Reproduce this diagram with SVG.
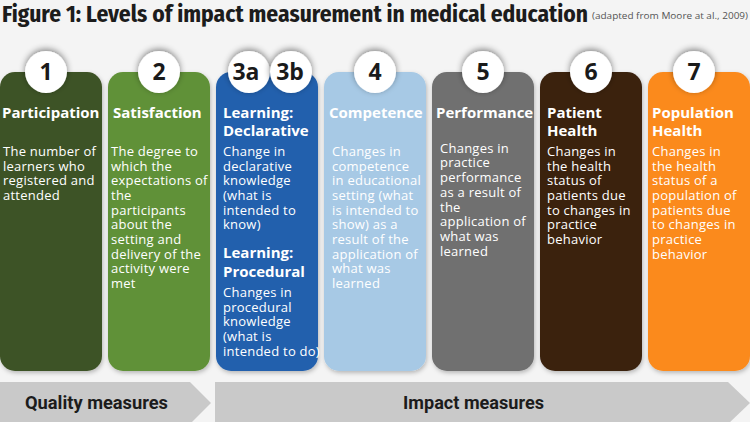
<svg xmlns="http://www.w3.org/2000/svg" width="750" height="422" viewBox="0 0 750 422">
<defs>
<style>
.title{font-family:"Fira Sans Condensed","Roboto","Liberation Sans",sans-serif;font-weight:700;fill:#1c1c1c}
.sub{font-family:"Open Sans","Liberation Sans",sans-serif;font-size:9.5px;fill:#555}
.num{font-family:"Open Sans","Liberation Sans",sans-serif;font-weight:700;font-size:23px;fill:#1a1a1a;text-anchor:middle}
.h{font-family:"Open Sans","Liberation Sans",sans-serif;font-weight:700;font-size:15px;fill:#fff}
.b{font-family:"Open Sans","Liberation Sans",sans-serif;font-size:13px;letter-spacing:0.25px;fill:#fff}
.bar{font-family:"Roboto","Liberation Sans",sans-serif;font-weight:700;font-size:19px;fill:#1c1c1c}
.circ{fill:#fff;filter:url(#cs)}
.card{filter:url(#ks)}
</style>
<filter id="cs" x="-50%" y="-50%" width="200%" height="200%">
<feDropShadow dx="0" dy="-2" stdDeviation="3" flood-color="#000" flood-opacity="0.45"/>
</filter>
<filter id="ks" x="-10%" y="-10%" width="120%" height="120%">
<feDropShadow dx="1" dy="2" stdDeviation="2" flood-color="#000" flood-opacity="0.25"/>
</filter>
</defs>
<rect width="750" height="422" fill="#f4f4f4"/>
<text class="title" x="2" y="22" font-size="24" textLength="586" lengthAdjust="spacingAndGlyphs">Figure 1: Levels of impact measurement in medical education</text>
<text class="sub" x="592" y="19" textLength="156" lengthAdjust="spacingAndGlyphs">(adapted from Moore at al., 2009)</text>

<g id="card1">
<rect class="card" x="0" y="72" width="102" height="299" rx="15" fill="#3e5225"/>
<circle class="circ" cx="46" cy="72" r="21"/>
<text class="num" x="46" y="80">1</text>
<text class="h" x="2" y="118">Participation</text>
<text class="b"><tspan x="3" y="156">The number of</tspan><tspan x="3" y="171">learners who</tspan><tspan x="3" y="185">registered and</tspan><tspan x="3" y="200">attended</tspan></text>
</g>

<g id="card2">
<rect class="card" x="108" y="72" width="102" height="299" rx="15" fill="#619137"/>
<circle class="circ" cx="159" cy="72" r="21"/>
<text class="num" x="159" y="80">2</text>
<text class="h" x="113" y="118">Satisfaction</text>
<text class="b"><tspan x="111" y="156">The degree to</tspan><tspan x="111" y="171">which the</tspan><tspan x="111" y="185">expectations of</tspan><tspan x="111" y="200">the</tspan><tspan x="111" y="215">participants</tspan><tspan x="111" y="229">about the</tspan><tspan x="111" y="244">setting and</tspan><tspan x="111" y="259">delivery of the</tspan><tspan x="111" y="273">activity were</tspan><tspan x="111" y="288">met</tspan></text>
</g>

<g id="card3">
<rect class="card" x="216" y="72" width="102" height="299" rx="15" fill="#2461ad"/>
<circle class="circ" cx="249" cy="72" r="21"/>
<circle class="circ" cx="291" cy="72" r="21"/>
<text class="num" x="246" y="80">3a</text>
<text class="num" x="290" y="80">3b</text>
<text class="h"><tspan x="223" y="118">Learning:</tspan><tspan x="223" y="136">Declarative</tspan></text>
<text class="b"><tspan x="223" y="156">Change in</tspan><tspan x="223" y="171">declarative</tspan><tspan x="223" y="185">knowledge</tspan><tspan x="223" y="200">(what is</tspan><tspan x="223" y="215">intended to</tspan><tspan x="223" y="229">know)</tspan></text>
<text class="h"><tspan x="223" y="258">Learning:</tspan><tspan x="223" y="277">Procedural</tspan></text>
<text class="b"><tspan x="223" y="297">Changes in</tspan><tspan x="223" y="312">procedural</tspan><tspan x="223" y="326">knowledge</tspan><tspan x="223" y="341">(what is</tspan><tspan x="223" y="356">intended to do)</tspan></text>
</g>

<g id="card4">
<rect class="card" x="324" y="72" width="102" height="299" rx="15" fill="#a7c9e5"/>
<circle class="circ" cx="375" cy="72" r="21"/>
<text class="num" x="375" y="80">4</text>
<text class="h" x="329" y="118">Competence</text>
<text class="b"><tspan x="332" y="156">Changes in</tspan><tspan x="332" y="171">competence</tspan><tspan x="332" y="185">in educational</tspan><tspan x="332" y="200">setting (what</tspan><tspan x="332" y="215">is intended to</tspan><tspan x="332" y="229">show) as a</tspan><tspan x="332" y="244">result of the</tspan><tspan x="332" y="259">application of</tspan><tspan x="332" y="273">what was</tspan><tspan x="332" y="288">learned</tspan></text>
</g>

<g id="card5">
<rect class="card" x="432" y="72" width="102" height="299" rx="15" fill="#6f6f6f"/>
<circle class="circ" cx="483" cy="72" r="21"/>
<text class="num" x="483" y="80">5</text>
<text class="h" x="436" y="118">Performance</text>
<text class="b"><tspan x="440" y="153">Changes in</tspan><tspan x="440" y="167">practice</tspan><tspan x="440" y="182">performance</tspan><tspan x="440" y="197">as a result of</tspan><tspan x="440" y="212">the</tspan><tspan x="440" y="226">application of</tspan><tspan x="440" y="241">what was</tspan><tspan x="440" y="256">learned</tspan></text>
</g>

<g id="card6">
<rect class="card" x="540" y="72" width="102" height="299" rx="15" fill="#3a2310"/>
<circle class="circ" cx="591" cy="72" r="21"/>
<text class="num" x="591" y="80">6</text>
<text class="h"><tspan x="547" y="118">Patient</tspan><tspan x="547" y="136">Health</tspan></text>
<text class="b"><tspan x="547" y="156">Changes in</tspan><tspan x="547" y="171">the health</tspan><tspan x="547" y="185">status of</tspan><tspan x="547" y="200">patients due</tspan><tspan x="547" y="215">to changes in</tspan><tspan x="547" y="229">practice</tspan><tspan x="547" y="244">behavior</tspan></text>
</g>

<g id="card7">
<rect class="card" x="648" y="72" width="102" height="299" rx="15" fill="#fb8a1d"/>
<circle class="circ" cx="694" cy="72" r="21"/>
<text class="num" x="694" y="80">7</text>
<text class="h"><tspan x="652" y="118">Population</tspan><tspan x="652" y="136">Health</tspan></text>
<text class="b"><tspan x="652" y="156">Changes in</tspan><tspan x="652" y="171">the health</tspan><tspan x="652" y="185">status of a</tspan><tspan x="652" y="200">population of</tspan><tspan x="652" y="215">patients due</tspan><tspan x="652" y="229">to changes in</tspan><tspan x="652" y="244">practice</tspan><tspan x="652" y="259">behavior</tspan></text>
</g>

<g id="quality">
<polygon points="0,382 190,382 211,403 190,424 0,424" fill="#c9c9c9"/>
<text class="bar" x="25" y="409" textLength="143" lengthAdjust="spacingAndGlyphs">Quality measures</text>
</g>
<g id="impact">
<polygon points="215,382 728,382 750,403 728,424 215,424" fill="#c9c9c9"/>
<text class="bar" x="403" y="409" textLength="141" lengthAdjust="spacingAndGlyphs">Impact measures</text>
</g>
<g id="connectors"></g>
</svg>
